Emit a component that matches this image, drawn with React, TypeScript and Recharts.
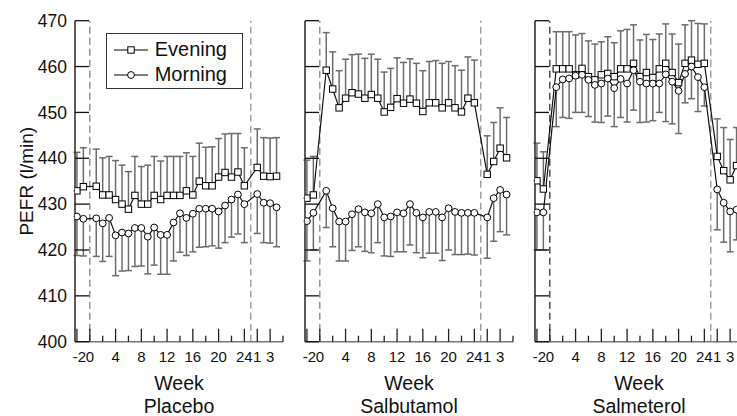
import { LineChart, Line, XAxis, YAxis, ErrorBar, ReferenceLine, Legend } from 'recharts';

// x position of each visit; post-treatment weeks 1-4 are drawn at 26-29
const weeks = [-2, -1, 1, 2, 3, 4, 5, 6, 7, 8, 9, 10, 11, 12, 13, 14, 15, 16, 17, 18, 19, 20, 21, 22, 23, 24, 26, 27, 28, 29];

const xTicks = [-2, 0, 2, 4, 6, 8, 10, 12, 14, 16, 18, 20, 22, 24, 26, 28, 30];
const xTickLabels: Record<number, string> = { '-2': '-2', 0: '0', 4: '4', 8: '8', 12: '12', 16: '16', 20: '20', 24: '24', 26: '1', 28: '3' };
const yTicks = [400, 410, 420, 430, 440, 450, 460, 470];

// Placebo
const placeboEvening = [432.9, 433.8, 433.9, 432.0, 432.0, 431.0, 430.0, 428.9, 431.9, 430.0, 430.0, 431.9, 431.0, 431.9, 431.9, 431.9, 432.9, 432.0, 435.0, 434.0, 434.0, 435.9, 436.9, 435.9, 437.0, 434.0, 438.0, 436.1, 436.0, 436.1];
const placeboEveningHi = [441.3, 442.3, 442.0, 440.1, 440.4, 439.5, 438.5, 437.1, 440.4, 438.2, 438.5, 440.4, 439.4, 440.4, 440.4, 440.4, 441.2, 440.4, 443.3, 442.4, 442.5, 444.3, 445.3, 445.4, 445.4, 442.3, 446.4, 444.5, 444.4, 444.5];
const placeboMorning = [427.3, 426.8, 426.9, 425.8, 427.0, 423.2, 423.8, 423.6, 424.8, 424.8, 422.9, 424.9, 423.3, 423.3, 426.0, 428.0, 427.0, 427.9, 429.0, 429.0, 429.0, 428.4, 429.7, 431.0, 432.1, 430.0, 432.2, 430.3, 430.2, 429.3];
const placeboMorningLo = [418.8, 418.7, 418.6, 417.5, 418.6, 414.4, 415.4, 415.5, 416.4, 416.5, 414.8, 416.7, 414.7, 414.7, 417.6, 419.5, 418.8, 419.6, 420.6, 420.7, 420.9, 420.4, 421.6, 422.8, 423.5, 421.6, 423.6, 421.6, 421.5, 420.7];

// Salbutamol
const salbutamolEvening = [431.3, 432.0, 459.2, 455.1, 451.0, 453.1, 454.3, 454.0, 453.1, 453.9, 453.1, 450.1, 451.1, 453.0, 452.0, 452.9, 452.0, 450.2, 452.1, 452.1, 451.0, 452.1, 451.0, 450.1, 453.1, 452.1, 436.5, 439.3, 442.2, 440.1];
const salbutamolEveningHi = [439.6, 440.4, 467.4, 463.2, 459.1, 461.6, 462.6, 462.7, 461.8, 462.7, 461.6, 458.8, 459.6, 461.9, 460.9, 461.7, 460.7, 459.1, 461.1, 461.3, 460.7, 461.1, 460.2, 459.2, 462.1, 461.4, 444.9, 447.8, 451.0, 448.9];
const salbutamolMorning = [426.3, 428.1, 432.9, 429.1, 426.2, 426.2, 427.8, 428.9, 428.2, 428.0, 430.0, 427.1, 427.3, 428.2, 428.0, 430.0, 428.1, 427.1, 428.3, 428.3, 427.1, 429.1, 428.3, 428.1, 428.1, 428.1, 427.1, 431.3, 433.1, 432.1];
const salbutamolMorningLo = [417.6, 420.0, 424.9, 420.7, 417.6, 417.6, 419.9, 420.7, 419.7, 419.4, 421.6, 418.7, 418.6, 419.6, 419.6, 421.1, 419.4, 418.3, 419.3, 419.3, 417.7, 420.0, 419.0, 419.0, 419.1, 418.9, 418.2, 421.9, 424.0, 423.3];

// Salmeterol
const salmeterolEvening = [435.1, 433.3, 459.5, 459.5, 459.5, 458.2, 459.6, 457.8, 457.1, 458.2, 458.5, 457.8, 459.5, 459.5, 460.7, 457.8, 458.7, 457.6, 459.5, 460.7, 458.7, 456.5, 460.7, 461.4, 460.5, 460.7, 440.4, 437.3, 435.3, 438.4];
const salmeterolEveningHi = [443.3, 441.4, 467.6, 467.6, 467.6, 466.9, 467.2, 465.6, 464.9, 465.4, 466.5, 465.2, 467.8, 468.1, 469.1, 465.8, 467.0, 465.9, 467.1, 469.3, 467.1, 464.9, 469.1, 470.0, 469.4, 469.3, 448.6, 446.7, 444.1, 446.7];
const salmeterolMorning = [428.2, 428.2, 455.5, 457.2, 457.4, 458.0, 458.2, 457.1, 456.0, 456.3, 457.4, 455.3, 457.3, 456.3, 459.2, 456.7, 456.3, 456.3, 456.3, 458.3, 456.7, 454.7, 458.4, 460.0, 457.7, 455.5, 433.2, 430.3, 428.4, 428.8];
const salmeterolMorningLo = [420.0, 420.0, 446.9, 448.9, 448.7, 450.0, 450.0, 449.1, 447.9, 447.8, 449.2, 446.9, 448.9, 447.9, 450.5, 447.8, 447.9, 448.2, 450.0, 448.0, 447.5, 445.4, 452.1, 453.0, 450.2, 451.4, 424.4, 421.7, 419.6, 422.2];

const font = '"Liberation Sans", Arial, Helvetica, sans-serif';
const ink = '#111';
const errGrey = '#6c6c6c';

function buildRows(eve: number[], eveHi: number[], mor: number[], morLo: number[]) {
  return weeks.map((w, i) => ({
    week: w,
    evening: eve[i],
    morning: mor[i],
    eveErr: [0, eveHi[i] - eve[i]],
    morErr: [mor[i] - morLo[i], 0],
  }));
}

const SquareDot = (p: any) => (
  <rect key={`s${p.index}`} x={p.cx - 3.2} y={p.cy - 3.2} width={6.4} height={6.4} fill="#fff" stroke="#000" strokeWidth={1} />
);
const CircleDot = (p: any) => (
  <circle key={`c${p.index}`} cx={p.cx} cy={p.cy} r={3.4} fill="#fff" stroke="#000" strokeWidth={1} />
);

const XTick = (p: any) => {
  const v = p.payload.value;
  const label = xTickLabels[v];
  const major = label !== undefined;
  return (
    <g>
      <line x1={p.x} x2={p.x} y1={p.y} y2={p.y - (major ? 13 : 6)} stroke="#222" strokeWidth={1.3} />
      {label !== undefined && (
        <text x={p.x} dx={v === -2 ? 2.5 : 0} y={p.y + 20.6} textAnchor="middle" fontSize={15} fontFamily={font} fill={ink}>{label}</text>
      )}
    </g>
  );
};

const makeYTick = (showLabel: boolean) => (p: any) => (
  <g>
    <line x1={p.x} x2={p.x + 14} y1={p.y} y2={p.y} stroke="#111" strokeWidth={1.3} />
    {showLabel && (
      <text x={p.x - 8} y={p.y} dy={6.2} textAnchor="end" fontSize={17.5} fontFamily={font} fill={ink}>{p.payload.value}</text>
    )}
  </g>
);

const makeXTitle = (name: string) => (props: any) => {
  const vb = props.viewBox || {};
  const cx = vb.x + vb.width / 2;
  return (
    <g>
      <text x={cx} y={389.5} textAnchor="middle" fontSize={19.5} fontFamily={font} fill={ink}>Week</text>
      <text x={cx} y={413} textAnchor="middle" fontSize={19.5} fontFamily={font} fill={ink}>{name}</text>
    </g>
  );
};

const yTitle = () => (
  <text x={32.7} y={181.2} transform="rotate(-90 32.7 181.2)" textAnchor="middle" fontSize={19} fontFamily={font} fill={ink}>
    PEFR (l/min)
  </text>
);

const LegendBox = () => (
  <div style={{ border: '1.5px solid #333', width: 137, height: 56, boxSizing: 'border-box', background: '#fff', fontFamily: font, fontSize: 20, color: ink, paddingTop: 3 }}>
    {['Evening', 'Morning'].map((name, i) => (
      <div key={name} style={{ display: 'flex', alignItems: 'center', height: 25 }}>
        <svg width={34} height={12} style={{ marginLeft: 7, marginRight: 7 }}>
          <line x1={0} x2={34} y1={6} y2={6} stroke="#000" strokeWidth={1.2} />
          {i === 0 ? (
            <rect x={13.8} y={2.8} width={6.4} height={6.4} fill="#fff" stroke="#000" />
          ) : (
            <circle cx={17} cy={6} r={3.4} fill="#fff" stroke="#000" />
          )}
        </svg>
        <span style={{ lineHeight: '25px' }}>{name}</span>
      </div>
    ))}
  </div>
);

type PanelProps = {
  name: string;
  left: number;
  rows: ReturnType<typeof buildRows>;
  first?: boolean;
  startLine: string;
};

function Panel({ name, left, rows, first, startLine }: PanelProps) {
  return (
    <div style={{ position: 'absolute', left, top: 0 }}>
      <LineChart width={295} height={416} data={rows} margin={{ top: 20.7, right: 12, bottom: 0, left: 0 }}>
        <XAxis
          type="number"
          dataKey="week"
          domain={[-2.3, 30]}
          ticks={xTicks}
          interval={0}
          height={74.3}
          tickSize={0}
          tickMargin={0}
          tickLine={false}
          axisLine={{ stroke: '#777', strokeWidth: 1.6 }}
          tick={XTick}
          allowDataOverflow
          label={makeXTitle(name)}
        />
        <YAxis
          type="number"
          domain={[400, 470]}
          ticks={yTicks}
          interval={0}
          width={75}
          tickSize={0}
          tickMargin={0}
          tickLine={false}
          axisLine={{ stroke: '#333', strokeWidth: 1.6 }}
          tick={makeYTick(!!first)}
          allowDataOverflow
          label={first ? yTitle : undefined}
        />
        <ReferenceLine x={0} stroke={startLine} strokeWidth={1.2} strokeDasharray="7 4" />
        <ReferenceLine x={25} stroke="#888" strokeWidth={1.2} strokeDasharray="7 4" />
        <Line dataKey="evening" type="linear" stroke="#111" strokeWidth={1.2} dot={SquareDot} activeDot={false} isAnimationActive={false}>
          <ErrorBar dataKey="eveErr" direction="y" width={3.5} stroke={errGrey} strokeWidth={1.5} isAnimationActive={false} />
        </Line>
        <Line dataKey="morning" type="linear" stroke="#111" strokeWidth={1.2} dot={CircleDot} activeDot={false} isAnimationActive={false}>
          <ErrorBar dataKey="morErr" direction="y" width={3.5} stroke={errGrey} strokeWidth={1.5} isAnimationActive={false} />
        </Line>
        {first && (
          <Legend
            layout="vertical"
            align="center"
            verticalAlign="middle"
            content={LegendBox}
            wrapperStyle={{ left: 106, top: 33.3, width: 'auto', height: 'auto' }}
          />
        )}
      </LineChart>
    </div>
  );
}

export default function App() {
  return (
    <div style={{ position: 'absolute', left: 0, top: 0, width: 737, height: 416, overflow: 'hidden', background: '#fff' }}>
      <Panel name="Placebo" left={-0.3} first startLine="#777" rows={buildRows(placeboEvening, placeboEveningHi, placeboMorning, placeboMorningLo)} />
      <Panel name="Salbutamol" left={229.7} startLine="#777" rows={buildRows(salbutamolEvening, salbutamolEveningHi, salbutamolMorning, salbutamolMorningLo)} />
      <Panel name="Salmeterol" left={460} startLine="#222" rows={buildRows(salmeterolEvening, salmeterolEveningHi, salmeterolMorning, salmeterolMorningLo)} />
    </div>
  );
}
